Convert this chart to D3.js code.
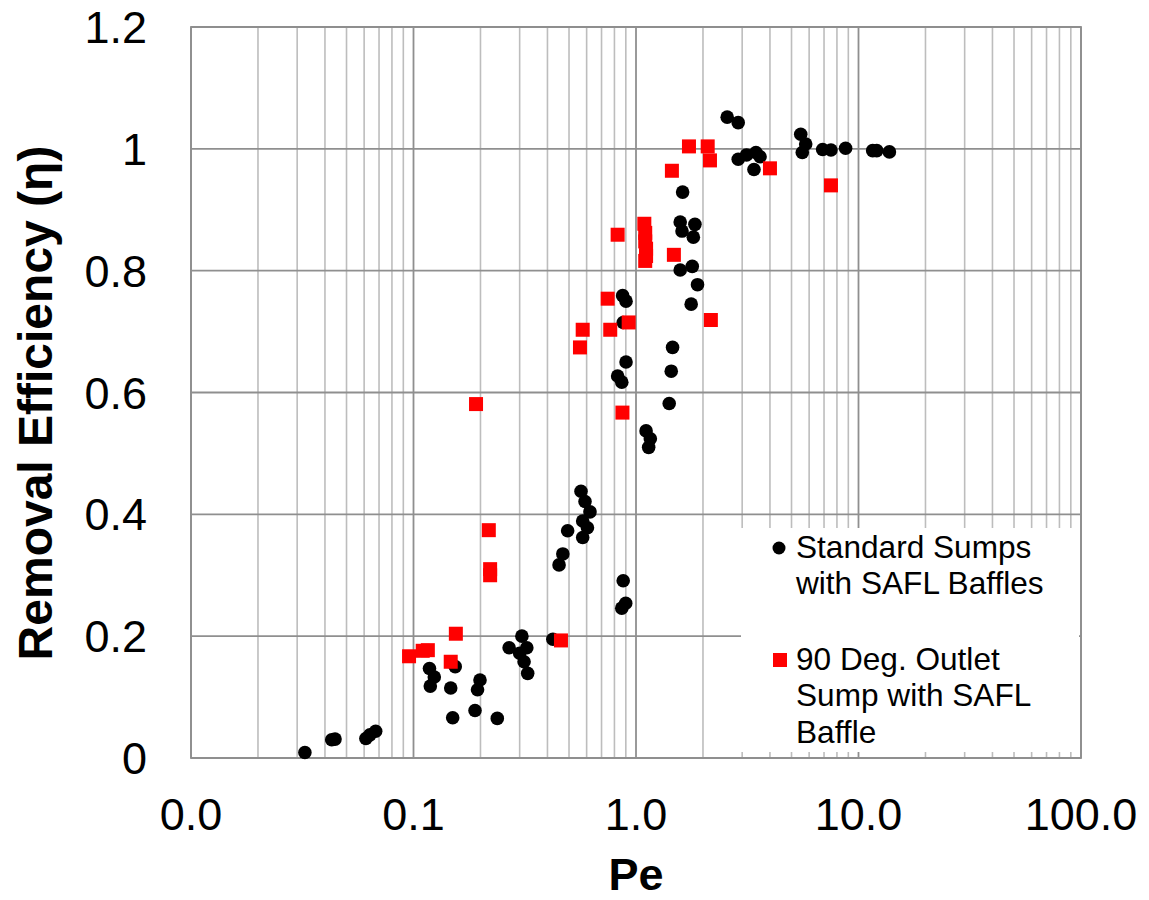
<!DOCTYPE html>
<html>
<head>
<meta charset="utf-8">
<script src="https://cdn.jsdelivr.net/npm/d3@7/dist/d3.min.js"></script>
<style>
  html, body { margin: 0; padding: 0; background: #fff; }
  svg { display: block; font-family: Arial, "Liberation Sans", sans-serif; }
</style>
</head>
<body>
<svg id="chart" width="1149" height="900"></svg>
<script>
// ---- Data ----
const standardPe = [0.871,0.902,0.876,0.902,0.827,0.863,
  2.57,2.88,5.50,5.79,5.59,6.90,7.52,8.75,11.58,12.08,13.77,2.88,3.14,3.46,3.61,3.39,
  1.62,1.58,1.84,1.61,1.81,1.58,1.79,1.89,1.77,1.46,1.44,
  0.566,0.590,0.621,0.576,0.605,0.493,0.576,0.469,0.451,0.876,0.899,0.863,
  0.307,0.269,0.323,0.300,0.314,0.326,0.423,
  0.118,0.154,0.124,0.119,0.147,0.199,0.194,0.189,0.150,0.238,
  0.0676,0.0637,0.0611,0.0444,0.0429,0.0325,
  1.41,1.11,1.16,1.14];
const standardEta = [0.759,0.750,0.715,0.650,0.627,0.617,
  1.052,1.043,1.024,1.008,0.994,0.999,0.998,1.001,0.997,0.997,0.995,0.983,0.990,0.994,0.987,0.966,
  0.929,0.880,0.876,0.865,0.855,0.801,0.807,0.777,0.745,0.674,0.635,
  0.438,0.421,0.404,0.389,0.378,0.373,0.362,0.335,0.317,0.291,0.254,0.246,
  0.200,0.181,0.181,0.172,0.158,0.139,0.195,
  0.147,0.150,0.133,0.118,0.115,0.128,0.112,0.078,0.066,0.065,
  0.044,0.038,0.032,0.031,0.030,0.009,
  0.582,0.537,0.524,0.510];

const outletPe = [0.827,0.746,0.576,0.766,0.927,0.560,0.191,
  1.73,2.10,2.15,1.45,4.00,7.52,
  1.09,1.10,1.10,1.11,1.11,1.10,1.48,2.17,
  0.869,0.218,0.221,0.221,0.155,0.116,0.110,0.0955,0.147,0.460];
const outletEta = [0.859,0.754,0.703,0.703,0.715,0.674,0.581,
  1.004,1.004,0.981,0.964,0.968,0.940,
  0.877,0.862,0.848,0.836,0.824,0.816,0.826,0.719,
  0.567,0.374,0.310,0.300,0.204,0.177,0.176,0.167,0.158,0.193];

const xTickValues = [0.01, 0.1, 1, 10, 100];
const xTickLabels = ["0.0", "0.1", "1.0", "10.0", "100.0"];
const yTickValues = [0, 0.2, 0.4, 0.6, 0.8, 1.0, 1.2];
const yTickLabels = ["0", "0.2", "0.4", "0.6", "0.8", "1", "1.2"];
const seriesNames = [["Standard Sumps", "with SAFL Baffles"], ["90 Deg. Outlet", "Sump with SAFL", "Baffle"]];
const seriesColors = ["#000000", "#ff0000"];

// ---- Layout ----
const svg = d3.select("#chart");
const L = 191, R = 1081, T = 27, B = 758;
const x = d3.scaleLog().domain([0.01, 100]).range([L, R]);
const y = d3.scaleLinear().domain([0, 1.2]).range([B, T]);

// minor vertical gridlines
const minor = [];
for (let d = 0.01; d < 100; d *= 10) for (let k = 2; k <= 9; k++) minor.push(d * k);
svg.append("g").selectAll("line").data(minor).join("line")
  .attr("x1", d => x(d)).attr("x2", d => x(d)).attr("y1", T).attr("y2", B)
  .attr("stroke", "#bdbdbd").attr("stroke-width", 1.6);
// major vertical gridlines
svg.append("g").selectAll("line").data(xTickValues).join("line")
  .attr("x1", d => x(d)).attr("x2", d => x(d)).attr("y1", T).attr("y2", B)
  .attr("stroke", "#8f8f8f").attr("stroke-width", 1.8);
// horizontal gridlines
svg.append("g").selectAll("line").data(yTickValues).join("line")
  .attr("x1", L).attr("x2", R).attr("y1", d => y(d)).attr("y2", d => y(d))
  .attr("stroke", "#8f8f8f").attr("stroke-width", 1.8);
// border
svg.append("rect").attr("x", L).attr("y", T).attr("width", R - L).attr("height", B - T)
  .attr("fill", "none").attr("stroke", "#8f8f8f").attr("stroke-width", 1.8);

// tick labels
svg.append("g").selectAll("text").data(xTickValues).join("text")
  .attr("x", d => x(d)).attr("y", 830).attr("text-anchor", "middle")
  .attr("font-size", 45).attr("fill", "#000")
  .text((d, i) => xTickLabels[i]);
svg.append("g").selectAll("text").data(yTickValues).join("text")
  .attr("x", 147).attr("y", d => y(d) + 16).attr("text-anchor", "end")
  .attr("font-size", 45).attr("fill", "#000")
  .text((d, i) => yTickLabels[i]);

// axis titles
svg.append("text").attr("x", 636).attr("y", 890).attr("text-anchor", "middle")
  .attr("font-size", 45).attr("font-weight", "bold").text("Pe");
svg.append("text").attr("transform", "translate(52,403) rotate(-90)")
  .attr("text-anchor", "middle").attr("font-size", 48).attr("font-weight", "bold")
  .text("Removal Efficiency (η)");

// legend background
svg.append("rect").attr("x", 741).attr("y", 528).attr("width", 338).attr("height", 224).attr("fill", "#fff");

// points
const s1 = standardPe.map((p, i) => ({ p, e: standardEta[i] }));
const s2 = outletPe.map((p, i) => ({ p, e: outletEta[i] }));
svg.append("g").selectAll("circle").data(s1).join("circle")
  .attr("cx", d => x(d.p)).attr("cy", d => y(d.e)).attr("r", 6.8).attr("fill", seriesColors[0]);
svg.append("g").selectAll("rect").data(s2).join("rect")
  .attr("x", d => x(d.p) - 7).attr("y", d => y(d.e) - 7).attr("width", 14).attr("height", 14)
  .attr("fill", seriesColors[1]);

// legend
const lg = svg.append("g").attr("font-size", 31.6);
lg.append("circle").attr("cx", 779).attr("cy", 548).attr("r", 6.5).attr("fill", seriesColors[0]);
lg.append("rect").attr("x", 773).attr("y", 653).attr("width", 14).attr("height", 14).attr("fill", seriesColors[1]);
const baselines = [[558, 594], [670, 706, 743]];
seriesNames.forEach((lines, si) => {
  lines.forEach((t, li) => {
    lg.append("text").attr("x", 796).attr("y", baselines[si][li]).text(t);
  });
});
</script>
</body>
</html>
